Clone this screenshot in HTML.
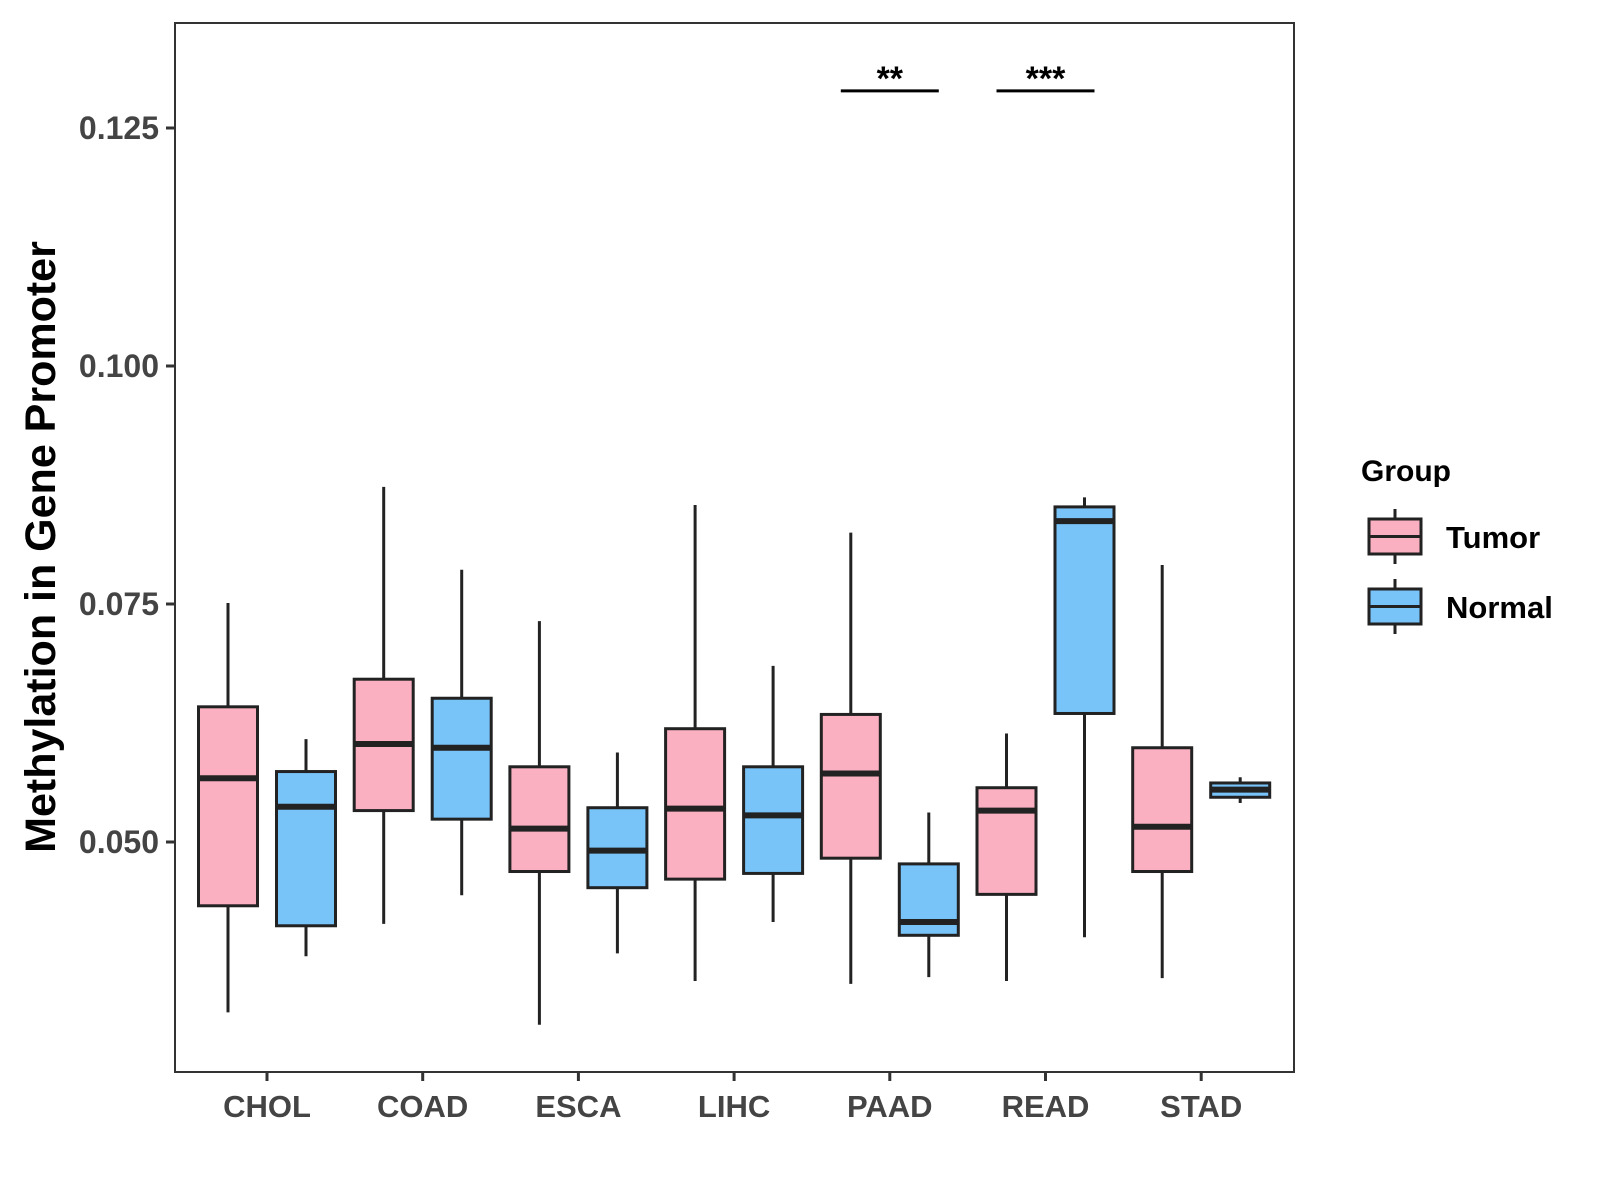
<!DOCTYPE html>
<html><head><meta charset="utf-8"><style>
html,body{margin:0;padding:0;background:#fff}
svg{display:block;font-family:"Liberation Sans",Arial,sans-serif}
</style></head><body>
<svg id="chart" width="1600" height="1200" viewBox="0 0 1600 1200" xmlns="http://www.w3.org/2000/svg">
<rect x="0" y="0" width="1600" height="1200" fill="#fff"/>
<g id="plot"></g>
</svg>
<script>
const categories = ["CHOL","COAD","ESCA","LIHC","PAAD","READ","STAD"];
const groups = ["Tumor","Normal"];
const groupColors = ["#FBB0C2","#78C3F8"];
// [whiskerLow, Q1, median, Q3, whiskerHigh]
const tumorStats = [
 [0.0321,0.0433,0.0567,0.0642,0.0751],
 [0.0414,0.0533,0.0603,0.0671,0.0873],
 [0.0308,0.0469,0.0514,0.0579,0.0732],
 [0.0354,0.0461,0.0535,0.0619,0.0854],
 [0.0351,0.0483,0.0572,0.0634,0.0825],
 [0.0354,0.0445,0.0533,0.0557,0.0614],
 [0.0357,0.0469,0.0516,0.0599,0.0791]
];
const normalStats = [
 [0.0380,0.0412,0.0537,0.0574,0.0608],
 [0.0444,0.0524,0.0599,0.0651,0.0786],
 [0.0383,0.0452,0.0491,0.0536,0.0594],
 [0.0416,0.0467,0.0528,0.0579,0.0685],
 [0.0358,0.0402,0.0416,0.0477,0.0531],
 [0.0400,0.0635,0.0837,0.0852,0.0862],
 [0.0541,0.0547,0.0555,0.0562,0.0568]
];
const yTicks = [0.050,0.075,0.100,0.125];
const yTickLabels = ["0.050","0.075","0.100","0.125"];
const sigCategories = ["PAAD","READ"];
const sigLabels = ["**","***"];
const sigLevel = 0.1289;

const NS="http://www.w3.org/2000/svg";
const g=document.getElementById('plot');
const L=175,R=1294,T=23,B=1072;
function y(v){return 128+(0.125-v)/0.025*238;}
function x(i){return 267+i*155.7;}
function mk(tag,attrs,parent){const e=document.createElementNS(NS,tag);for(const k in attrs)e.setAttribute(k,attrs[k]);(parent||g).appendChild(e);return e;}
const ink="#222";
const panel=mk('rect',{x:L,y:T,width:R-L,height:B-T,fill:'none',stroke:'#333','stroke-width':2});


yTicks.forEach((t,i)=>{
 const tk=mk('line',{x1:L-9,x2:L,y1:y(t),y2:y(t),stroke:'#333','stroke-width':3});
 
 
 const tx=mk('text',{x:L-16,y:y(t)+11,'text-anchor':'end','font-size':32,'font-weight':'bold',fill:'#444'});
 tx.textContent=yTickLabels[i];
 
 
});
categories.forEach((c,i)=>{
 const tk=mk('line',{x1:x(i),x2:x(i),y1:B,y2:B+9,stroke:'#333','stroke-width':3});
 
 
 const tx=mk('text',{x:x(i),y:B+45,'text-anchor':'middle','font-size':31,'font-weight':'bold',fill:'#444'});
 tx.textContent=c;
 
 
});
const hw=29.5,off=39;
function box(s,cx,fill,name){
 const grp=mk('g',{});
 
 
 mk('line',{x1:cx,x2:cx,y1:y(s[0]),y2:y(s[4]),stroke:ink,'stroke-width':3},grp);
 mk('rect',{x:cx-hw,y:y(s[3]),width:2*hw,height:y(s[1])-y(s[3]),fill:fill,stroke:ink,'stroke-width':3},grp);
 mk('line',{x1:cx-hw,x2:cx+hw,y1:y(s[2]),y2:y(s[2]),stroke:ink,'stroke-width':6},grp);
}
categories.forEach((c,i)=>{
 box(tumorStats[i],x(i)-off,groupColors[0],'box-tumor-'+c.toLowerCase());
 box(normalStats[i],x(i)+off,groupColors[1],'box-normal-'+c.toLowerCase());
});
sigCategories.forEach((c,k)=>{
 const i=categories.indexOf(c);
 const ln=mk('line',{x1:x(i)-off-10,x2:x(i)+off+10,y1:y(sigLevel),y2:y(sigLevel),stroke:'#000','stroke-width':3});
 
 
 const tx=mk('text',{x:x(i),y:y(sigLevel)-1,'text-anchor':'middle','font-size':34,'font-weight':'bold',fill:'#000'});
 tx.textContent=sigLabels[k];
 
 
});
const yt=mk('text',{x:0,y:0,transform:'translate(55,547) rotate(-90)','text-anchor':'middle','font-size':43,'font-weight':'bold',fill:'#000'});
yt.textContent='Methylation in Gene Promoter';


const lt=mk('text',{x:1361,y:481,'font-size':30,'font-weight':'bold',fill:'#000'});
lt.textContent='Group';


groups.forEach((gname,k)=>{
 const top=519+k*70;
 const lg=mk('g',{});
 
 
 mk('line',{x1:1395,x2:1395,y1:top-10,y2:top+45,stroke:ink,'stroke-width':3},lg);
 mk('rect',{x:1369,y:top,width:52,height:35,fill:groupColors[k],stroke:ink,'stroke-width':3},lg);
 mk('line',{x1:1369,x2:1421,y1:top+17.5,y2:top+17.5,stroke:ink,'stroke-width':3},lg);
 const t=mk('text',{x:1446,y:top+29,'font-size':31,'font-weight':'bold',fill:'#000'},lg);
 t.textContent=gname;
});
</script>
</body></html>
